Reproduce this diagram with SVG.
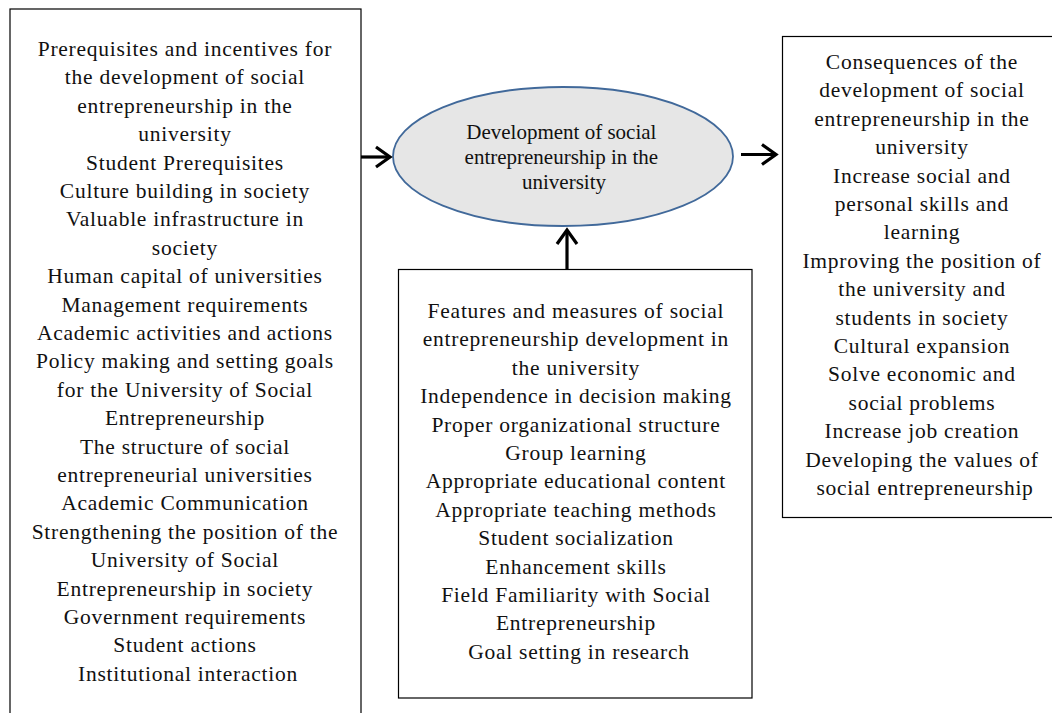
<svg xmlns="http://www.w3.org/2000/svg" width="1052" height="713" viewBox="0 0 1052 713">
<defs>
<style>
.box{fill:#fff;stroke:#000;stroke-width:1.2}
.t{font-family:'Liberation Serif','Times New Roman',serif;font-size:21.5px;letter-spacing:0.75px;fill:#111;text-anchor:middle}
.e{font-family:'Liberation Serif','Times New Roman',serif;font-size:21px;fill:#111;text-anchor:middle}
.arr{stroke:#000;stroke-width:3.2;fill:none}
.hd{stroke:#000;stroke-width:3.2;fill:none;stroke-linecap:butt;stroke-linejoin:miter}
</style>
</defs>
<rect width="1052" height="713" fill="#fff"/>
<g id="left">
<rect class="box" x="10" y="9" width="351" height="720"/>
<text class="t">
<tspan x="188" y="56">Prerequisites and incentives for</tspan>
<tspan x="188" y="84.4">the development of social</tspan>
<tspan x="188" y="112.8">entrepreneurship in the</tspan>
<tspan x="188" y="141.2">university</tspan>
<tspan x="188" y="169.6">Student Prerequisites</tspan>
<tspan x="188" y="198">Culture building in society</tspan>
<tspan x="188" y="226.4">Valuable infrastructure in</tspan>
<tspan x="188" y="254.8">society</tspan>
<tspan x="188" y="283.2">Human capital of universities</tspan>
<tspan x="188" y="311.6">Management requirements</tspan>
<tspan x="188" y="340">Academic activities and actions</tspan>
<tspan x="188" y="368.4">Policy making and setting goals</tspan>
<tspan x="188" y="396.8">for the University of Social</tspan>
<tspan x="188" y="425.2">Entrepreneurship</tspan>
<tspan x="188" y="453.6">The structure of social</tspan>
<tspan x="188" y="482">entrepreneurial universities</tspan>
<tspan x="188" y="510.4">Academic Communication</tspan>
<tspan x="188" y="538.8">Strengthening the position of the</tspan>
<tspan x="188" y="567.2">University of Social</tspan>
<tspan x="188" y="595.6">Entrepreneurship in society</tspan>
<tspan x="188" y="624">Government requirements</tspan>
<tspan x="188" y="652.4">Student actions</tspan>
<tspan x="188" y="680.8">Institutional interaction</tspan>
</text>
</g>
<g id="center">
<ellipse cx="563" cy="156.5" rx="170" ry="69.5" fill="#e6e6e6" stroke="#41699a" stroke-width="1.8"/>
<text class="e">
<tspan x="564" y="139">Development of social</tspan>
<tspan x="564" y="164">entrepreneurship in the</tspan>
<tspan x="564" y="189">university</tspan>
</text>
</g>
<g id="middle">
<rect class="box" x="398.5" y="269.5" width="353.5" height="428.5"/>
<text class="t">
<tspan x="579" y="318">Features and measures of social</tspan>
<tspan x="579" y="346.4">entrepreneurship development in</tspan>
<tspan x="579" y="374.8">the university</tspan>
<tspan x="579" y="403.2">Independence in decision making</tspan>
<tspan x="579" y="431.6">Proper organizational structure</tspan>
<tspan x="579" y="460">Group learning</tspan>
<tspan x="579" y="488.4">Appropriate educational content</tspan>
<tspan x="579" y="516.8">Appropriate teaching methods</tspan>
<tspan x="579" y="545.2">Student socialization</tspan>
<tspan x="579" y="573.6">Enhancement skills</tspan>
<tspan x="579" y="602">Field Familiarity with Social</tspan>
<tspan x="579" y="630.4">Entrepreneurship</tspan>
<tspan x="579" y="658.8">Goal setting in research</tspan>
</text>
</g>
<g id="right">
<rect class="box" x="782.5" y="36.5" width="280" height="481"/>
<text class="t">
<tspan x="925" y="69">Consequences of the</tspan>
<tspan x="925" y="97.4">development of social</tspan>
<tspan x="925" y="125.8">entrepreneurship in the</tspan>
<tspan x="925" y="154.2">university</tspan>
<tspan x="925" y="182.6">Increase social and</tspan>
<tspan x="925" y="211">personal skills and</tspan>
<tspan x="925" y="239.4">learning</tspan>
<tspan x="925" y="267.8">Improving the position of</tspan>
<tspan x="925" y="296.2">the university and</tspan>
<tspan x="925" y="324.6">students in society</tspan>
<tspan x="925" y="353">Cultural expansion</tspan>
<tspan x="925" y="381.4">Solve economic and</tspan>
<tspan x="925" y="409.8">social problems</tspan>
<tspan x="925" y="438.2">Increase job creation</tspan>
<tspan x="925" y="466.6">Developing the values of</tspan>
<tspan x="925" y="495">social entrepreneurship</tspan>
</text>
</g>
<g id="connectors">
<line class="arr" x1="361" y1="157" x2="390" y2="157"/>
<path class="hd" d="M376,147 L390,157 L376,167"/>
<line class="arr" x1="741" y1="154.5" x2="776" y2="154.5"/>
<path class="hd" d="M762,144.5 L776,154.5 L762,164.5"/>
<line class="arr" x1="567" y1="269" x2="567" y2="230"/>
<path class="hd" d="M557,244 L567,230 L577,244"/>
</g>
</svg>
